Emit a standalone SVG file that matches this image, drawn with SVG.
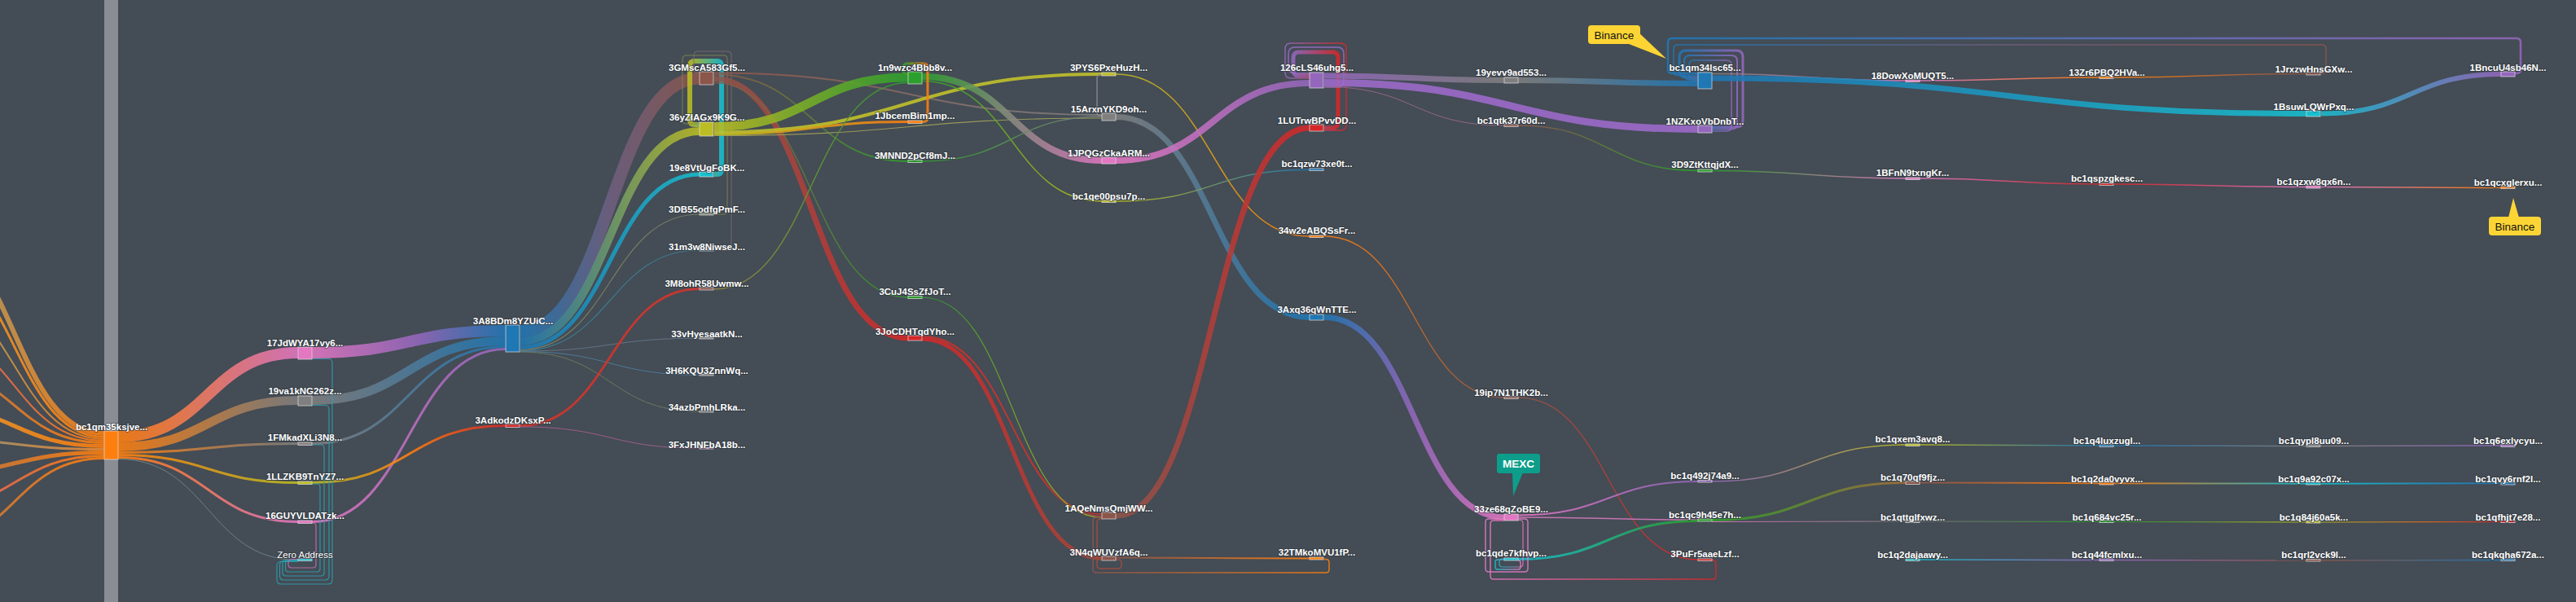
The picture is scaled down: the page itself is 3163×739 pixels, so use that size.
<svg xmlns="http://www.w3.org/2000/svg" width="3163" height="739" viewBox="0 0 3163 739">
<style>
.lbl{font-family:"Liberation Sans",Arial,sans-serif;font-size:11.5px;font-weight:bold;fill:#fff;text-anchor:middle;stroke:#2b3238;stroke-width:2px;stroke-opacity:.55;paint-order:stroke}
.lbr{font-weight:normal}
.lk{fill:none;stroke-opacity:.88}
.nd{stroke:#d8d8d8;stroke-opacity:.75;stroke-width:1}
.co{font-family:"Liberation Sans",Arial,sans-serif;font-size:13.5px;text-anchor:middle}
</style>
<defs>
<linearGradient id="gYO"><stop offset="0" stop-color="#a3a87c"/><stop offset="1" stop-color="#ff7f0e"/></linearGradient>
<linearGradient id="gOO"><stop offset="0" stop-color="#f0a030"/><stop offset="1" stop-color="#ff7f0e"/></linearGradient>
<linearGradient id="gRO"><stop offset="0" stop-color="#e06075"/><stop offset="1" stop-color="#ff7f0e"/></linearGradient>
<linearGradient id="gNO2"><stop offset="0" stop-color="#c07848"/><stop offset="1" stop-color="#ff7f0e"/></linearGradient>
<linearGradient id="gGO"><stop offset="0" stop-color="#8a9a88"/><stop offset="1" stop-color="#f08a30"/></linearGradient>
<linearGradient id="gOP"><stop offset="0" stop-color="#ff7f0e"/><stop offset="1" stop-color="#e377c2"/></linearGradient>
<linearGradient id="gOG"><stop offset="0" stop-color="#ff7f0e"/><stop offset="1" stop-color="#7f7f7f"/></linearGradient>
<linearGradient id="gOY"><stop offset="0" stop-color="#ff7f0e"/><stop offset="1" stop-color="#bcbd22"/></linearGradient>
<linearGradient id="gPVB"><stop offset="0" stop-color="#e377c2"/><stop offset=".55" stop-color="#9467bd"/><stop offset="1" stop-color="#1f77b4"/></linearGradient>
<linearGradient id="gGB"><stop offset="0" stop-color="#7f7f7f"/><stop offset="1" stop-color="#1f77b4"/></linearGradient>
<linearGradient id="gPV"><stop offset="0" stop-color="#e377c2"/><stop offset="1" stop-color="#9467bd"/></linearGradient>
<linearGradient id="gYR"><stop offset="0" stop-color="#bcbd22"/><stop offset=".5" stop-color="#ff7f0e"/><stop offset="1" stop-color="#d62728"/></linearGradient>
<linearGradient id="gBN"><stop offset="0" stop-color="#1f77b4"/><stop offset=".5" stop-color="#6f5f80"/><stop offset="1" stop-color="#8c564b"/></linearGradient>
<linearGradient id="gBY"><stop offset="0" stop-color="#1f77b4"/><stop offset="1" stop-color="#bcbd22"/></linearGradient>
<linearGradient id="gBC"><stop offset="0" stop-color="#1f77b4"/><stop offset="1" stop-color="#17becf"/></linearGradient>
<linearGradient id="gYC"><stop offset="0" stop-color="#bcbd22"/><stop offset="1" stop-color="#17becf"/></linearGradient>
<linearGradient id="gNG"><stop offset="0" stop-color="#8c564b"/><stop offset="1" stop-color="#7f7f7f"/></linearGradient>
<linearGradient id="gNE"><stop offset="0" stop-color="#8c564b"/><stop offset="1" stop-color="#2ca02c"/></linearGradient>
<linearGradient id="gNR"><stop offset="0" stop-color="#8c564b"/><stop offset="1" stop-color="#d62728"/></linearGradient>
<linearGradient id="gYE"><stop offset="0" stop-color="#bcbd22"/><stop offset="1" stop-color="#2ca02c"/></linearGradient>
<linearGradient id="gYO2"><stop offset="0" stop-color="#bcbd22"/><stop offset="1" stop-color="#ff7f0e"/></linearGradient>
<linearGradient id="gOlE"><stop offset="0" stop-color="#9a8a40"/><stop offset="1" stop-color="#2ca02c"/></linearGradient>
<linearGradient id="gEGP"><stop offset="0" stop-color="#2ca02c"/><stop offset=".5" stop-color="#8a8a80"/><stop offset="1" stop-color="#e377c2"/></linearGradient>
<linearGradient id="gEY"><stop offset="0" stop-color="#2ca02c"/><stop offset="1" stop-color="#bcbd22"/></linearGradient>
<linearGradient id="gEO"><stop offset="0" stop-color="#2ca02c"/><stop offset="1" stop-color="#ff7f0e"/></linearGradient>
<linearGradient id="gEG"><stop offset="0" stop-color="#2ca02c"/><stop offset="1" stop-color="#7f7f7f"/></linearGradient>
<linearGradient id="gRN"><stop offset="0" stop-color="#d62728"/><stop offset="1" stop-color="#a0483c"/></linearGradient>
<linearGradient id="gYB"><stop offset="0" stop-color="#bcbd22"/><stop offset="1" stop-color="#1f77b4"/></linearGradient>
<linearGradient id="gNO"><stop offset="0" stop-color="#8c564b"/><stop offset="1" stop-color="#ff7f0e"/></linearGradient>
<linearGradient id="gVR"><stop offset="0" stop-color="#9467bd"/><stop offset="1" stop-color="#d62728"/></linearGradient>
<linearGradient id="gVG"><stop offset="0" stop-color="#9467bd"/><stop offset="1" stop-color="#7f7f7f"/></linearGradient>
<linearGradient id="gON"><stop offset="0" stop-color="#ff7f0e"/><stop offset="1" stop-color="#8c564b"/></linearGradient>
<linearGradient id="gBVP"><stop offset="0" stop-color="#1f77b4"/><stop offset=".5" stop-color="#9467bd"/><stop offset="1" stop-color="#e377c2"/></linearGradient>
<linearGradient id="gPR"><stop offset="0" stop-color="#e377c2"/><stop offset="1" stop-color="#d62728"/></linearGradient>
<linearGradient id="gCE"><stop offset="0" stop-color="#17becf"/><stop offset="1" stop-color="#2ca02c"/></linearGradient>
<linearGradient id="gCP"><stop offset="0" stop-color="#17becf"/><stop offset="1" stop-color="#e377c2"/></linearGradient>
<linearGradient id="gGP"><stop offset="0" stop-color="#7f7f7f"/><stop offset="1" stop-color="#e377c2"/></linearGradient>
<linearGradient id="gEP"><stop offset="0" stop-color="#2ca02c"/><stop offset="1" stop-color="#e377c2"/></linearGradient>
<linearGradient id="gVY"><stop offset="0" stop-color="#9467bd"/><stop offset="1" stop-color="#bcbd22"/></linearGradient>
<linearGradient id="gEN"><stop offset="0" stop-color="#2ca02c"/><stop offset="1" stop-color="#a0703a"/></linearGradient>
<linearGradient id="gPG"><stop offset="0" stop-color="#e377c2"/><stop offset="1" stop-color="#7f7f7f"/></linearGradient>
<linearGradient id="gPO"><stop offset="0" stop-color="#e377c2"/><stop offset="1" stop-color="#ff7f0e"/></linearGradient>
<linearGradient id="gGE"><stop offset="0" stop-color="#7f7f7f"/><stop offset="1" stop-color="#2ca02c"/></linearGradient>
<linearGradient id="gCV"><stop offset="0" stop-color="#17becf"/><stop offset="1" stop-color="#9467bd"/></linearGradient>
<linearGradient id="gRP"><stop offset="0" stop-color="#d62728"/><stop offset="1" stop-color="#e377c2"/></linearGradient>
<linearGradient id="gBG"><stop offset="0" stop-color="#1f77b4"/><stop offset="1" stop-color="#7f7f7f"/></linearGradient>
<linearGradient id="gOC"><stop offset="0" stop-color="#ff7f0e"/><stop offset="1" stop-color="#17becf"/></linearGradient>
<linearGradient id="gVN"><stop offset="0" stop-color="#9467bd"/><stop offset="1" stop-color="#8c564b"/></linearGradient>
<linearGradient id="gGV"><stop offset="0" stop-color="#7f7f7f"/><stop offset="1" stop-color="#9467bd"/></linearGradient>
<linearGradient id="gCB"><stop offset="0" stop-color="#17becf"/><stop offset="1" stop-color="#1f77b4"/></linearGradient>
<linearGradient id="gNB"><stop offset="0" stop-color="#8c564b"/><stop offset="1" stop-color="#1f77b4"/></linearGradient>
<linearGradient id="gBV"><stop offset="0" stop-color="#1f77b4"/><stop offset="1" stop-color="#9467bd"/></linearGradient>
</defs>
<rect width="3163" height="739" fill="#444c55"/>
<rect x="128" y="0" width="17" height="739" fill="#8a8d93"/>
<g id="links" class="lk">
<path d="M-93 285.8C17.5 285.8 17.5 532 128 532" stroke="url(#gYO)" stroke-width="6"/>
<path d="M-93 313.8C17.5 313.8 17.5 536.5 128 536.5" stroke="url(#gOO)" stroke-width="3"/>
<path d="M-93 358.2C17.5 358.2 17.5 539 128 539" stroke="url(#gYO)" stroke-width="2"/>
<path d="M-93 405.8C17.5 405.8 17.5 541 128 541" stroke="url(#gRO)" stroke-width="2"/>
<path d="M-93 451.5C17.5 451.5 17.5 543.5 128 543.5" stroke="url(#gNO2)" stroke-width="3"/>
<path d="M-93 498.2C17.5 498.2 17.5 547.5 128 547.5" stroke="url(#gOO)" stroke-width="5"/>
<path d="M-93 538.6C17.5 538.6 17.5 551.5 128 551.5" stroke="url(#gGO)" stroke-width="3"/>
<path d="M-93 582.1C17.5 582.1 17.5 555.5 128 555.5" stroke="url(#gNO2)" stroke-width="5"/>
<path d="M-93 625.5C17.5 625.5 17.5 559.5 128 559.5" stroke="url(#gRO)" stroke-width="3"/>
<path d="M-93 669.6C17.5 669.6 17.5 562.5 128 562.5" stroke="url(#gNO2)" stroke-width="3"/>
<path d="M145 536C255.5 536 255.5 433 366 433" stroke="url(#gOP)" stroke-width="14"/>
<path d="M145 548.5C255.5 548.5 255.5 491.5 366 491.5" stroke="url(#gOG)" stroke-width="11"/>
<path d="M145 555.5C255.5 555.5 255.5 544.5 366 544.5" stroke="url(#gOG)" stroke-width="3"/>
<path d="M145 558.5C255.5 558.5 255.5 592.5 366 592.5" stroke="url(#gOY)" stroke-width="3"/>
<path d="M145 561.5C255.5 561.5 255.5 640.5 366 640.5" stroke="url(#gOP)" stroke-width="3"/>
<path d="M145 563.5C255.5 563.5 255.5 687.5 366 687.5" stroke="#6f8a8a" stroke-width="1"/>
<path d="M383 433C502 433 502 406 621 406" stroke="url(#gPVB)" stroke-width="14"/>
<path d="M383 491.5C502 491.5 502 418.5 621 418.5" stroke="url(#gGB)" stroke-width="11"/>
<path d="M383 544.5C502 544.5 502 425.5 621 425.5" stroke="url(#gGB)" stroke-width="3"/>
<path d="M383 640.5C502 640.5 502 428.5 621 428.5" stroke="url(#gPV)" stroke-width="3"/>
<path d="M383 592.5C502 592.5 502 522.5 621 522.5" stroke="url(#gYR)" stroke-width="3"/>
<path d="M383 440.5H403Q408 440.5 408 445.5V712Q408 717 403 717H345Q340 717 340 712V694.5Q340 689.5 345 689.5H366" stroke="#2a9fae" stroke-width="1.2"/>
<path d="M383 497.5H399Q404 497.5 404 502.5V707Q404 712 399 712H348.5Q343.5 712 343.5 707V693.7Q343.5 688.7 348.5 688.7H366" stroke="#2a9fae" stroke-width="1.2"/>
<path d="M383 546H394Q398 546 398 550V703Q398 707 394 707H351Q347 707 347 703V692Q347 688 351 688H366" stroke="#2a9fae" stroke-width="1.2"/>
<path d="M383 594H389Q393 594 393 598V698Q393 702 389 702H354.5Q350.5 702 350.5 698V691.3Q350.5 687.3 354.5 687.3H366" stroke="#2a9fae" stroke-width="1.2"/>
<path d="M383 642H384Q388 642 388 646V693Q388 697 384 697H358Q354 697 354 693V690.5Q354 686.5 358 686.5H366" stroke="#c070b0" stroke-width="1.2"/>
<path d="M639 406.5C749 406.5 749 96 859 96" stroke="url(#gBN)" stroke-width="15"/>
<path d="M639 419C749 419 749 161 859 161" stroke="url(#gBY)" stroke-width="10"/>
<path d="M639 426.5C749 426.5 749 214 859 214" stroke="url(#gBC)" stroke-width="5"/>
<path d="M639 429.5C749 429.5 749 263 859 263" stroke="#7d8466" stroke-width="1.2"/>
<path d="M639 430.5C749 430.5 749 307 859 307" stroke="#3b8296" stroke-width="1.2"/>
<path d="M639 431C749 431 749 415.2 859 415.2" stroke="#667a8c" stroke-width="1"/>
<path d="M639 431.5C749 431.5 749 460.2 859 460.2" stroke="#4f7fa0" stroke-width="1"/>
<path d="M639 432C749 432 749 505.2 859 505.2" stroke="#6d8060" stroke-width="1"/>
<path d="M639 522.5C749 522.5 749 354.5 859 354.5" stroke="#d2362d" stroke-width="3"/>
<path d="M639 524C749 524 749 550.2 859 550.2" stroke="#a8608f" stroke-width="1"/>
<path d="M877 214H880Q886 214 886 208V81Q886 75 880 75H853Q847 75 847 81V147Q847 153 853 153H859" stroke="url(#gYC)" stroke-width="6"/>
<path d="M877 263H889Q893 263 893 259V72Q893 68 889 68H842Q838 68 838 72V148Q838 152 842 152H859" stroke="#7f8a50" stroke-width="1"/>
<path d="M877 307H894Q898 307 898 303V67Q898 63 894 63H856Q852 63 852 67V85Q852 89 856 89H859" stroke="#7a6e70" stroke-width="1"/>
<path d="M877 89.5C1115 89.5 1115 141 1353 141" stroke="url(#gNG)" stroke-width="2"/>
<path d="M877 91.5C996 91.5 996 198 1115 198" stroke="url(#gNE)" stroke-width="1.8"/>
<path d="M877 96.5C996 96.5 996 415 1115 415" stroke="url(#gNR)" stroke-width="7"/>
<path d="M877 101.5C996 101.5 996 365 1115 365" stroke="url(#gNE)" stroke-width="1.5"/>
<path d="M877 155.5C996 155.5 996 95 1115 95" stroke="url(#gYE)" stroke-width="11"/>
<path d="M877 162.5C1115 162.5 1115 91 1353 91" stroke="#c4c42a" stroke-width="4"/>
<path d="M877 165C996 165 996 149.5 1115 149.5" stroke="url(#gYO2)" stroke-width="3"/>
<path d="M877 166.5C1115 166.5 1115 145 1353 145" stroke="#a3a35a" stroke-width="1.2"/>
<path d="M877 355C996 355 996 101.5 1115 101.5" stroke="url(#gOlE)" stroke-width="1.5"/>
<path d="M1132 94C1242.5 94 1242.5 197 1353 197" stroke="url(#gEGP)" stroke-width="8"/>
<path d="M1132 99.5C1242.5 99.5 1242.5 247 1353 247" stroke="url(#gEY)" stroke-width="1.5"/>
<path d="M1132 149.5H1134Q1139 149.5 1139 144.5V83Q1139 78 1134 78H1114Q1109 78 1109 83V86Q1109 91 1114 91H1115" stroke="url(#gEO)" stroke-width="3"/>
<path d="M1132 198C1242.5 198 1242.5 143 1353 143" stroke="url(#gEG)" stroke-width="1.5"/>
<path d="M1132 412.5C1242.5 412.5 1242.5 631 1353 631" stroke="#d0302c" stroke-width="1.5"/>
<path d="M1132 414C1242.5 414 1242.5 633 1353 633" stroke="#c83a30" stroke-width="1"/>
<path d="M1132 416C1242.5 416 1242.5 685.5 1353 685.5" stroke="url(#gRN)" stroke-width="5"/>
<path d="M1132 365C1242.5 365 1242.5 635 1353 635" stroke="url(#gEY)" stroke-width="1.2"/>
<path d="M1370 91C1489 91 1489 290 1608 290" stroke="url(#gYO2)" stroke-width="1.5"/>
<path d="M1370 143.5C1489 143.5 1489 389.5 1608 389.5" stroke="url(#gGB)" stroke-width="7"/>
<path d="M1370 197C1489 197 1489 102 1608 102" stroke="url(#gPV)" stroke-width="8"/>
<path d="M1370 247C1489 247 1489 208.2 1608 208.2" stroke="url(#gYB)" stroke-width="1.5"/>
<path d="M1370 633C1489 633 1489 157 1608 157" stroke="url(#gNR)" stroke-width="7"/>
<path d="M1370 684.5C1489 684.5 1489 685.5 1608 685.5" stroke="url(#gNO)" stroke-width="2"/>
<path d="M1370 687H1373Q1377 687 1377 691V694Q1377 698 1373 698H1351Q1347 698 1347 694V641Q1347 637 1351 637H1353" stroke="#a24c42" stroke-width="1.5"/>
<path d="M1626 686.5H1628Q1632 686.5 1632 690.5V699Q1632 703 1628 703H1346Q1342 703 1342 699V639Q1342 635 1346 635H1353" stroke="url(#gNO)" stroke-width="1.5"/>
<path d="M1353 92H1351Q1347 92 1347 96V138Q1347 142 1351 142H1353" stroke="#8a8a8a" stroke-width="1.5"/>
<path d="M1626 157H1636Q1643 157 1643 150V71Q1643 64 1636 64H1595Q1588 64 1588 71V86Q1588 93 1595 93H1608" stroke="url(#gVR)" stroke-width="5"/>
<path d="M1626 107H1642Q1650 107 1650 99V66Q1650 58 1642 58H1590Q1582 58 1582 66V82Q1582 90 1590 90H1608" stroke="#9b6cc8" stroke-width="1.5"/>
<path d="M1626 160H1646Q1653 160 1653 153V60Q1653 53 1646 53H1585Q1578 53 1578 60V89Q1578 96 1585 96H1608" stroke="url(#gVR)" stroke-width="1.5"/>
<path d="M1626 93C1736.5 93 1736.5 98.5 1847 98.5" stroke="url(#gVG)" stroke-width="7"/>
<path d="M1626 101.5C1855.5 101.5 1855.5 158.5 2085 158.5" stroke="#9d6bcc" stroke-width="9"/>
<path d="M1626 106.5C1736.5 106.5 1736.5 154 1847 154" stroke="#9a6a8a" stroke-width="1"/>
<path d="M1626 290C1736.5 290 1736.5 488 1847 488" stroke="url(#gON)" stroke-width="1.5"/>
<path d="M1626 389.5C1736.5 389.5 1736.5 635 1847 635" stroke="url(#gBVP)" stroke-width="7"/>
<path d="M1864 98.5C1974.5 98.5 1974.5 102.5 2085 102.5" stroke="url(#gGB)" stroke-width="7"/>
<path d="M1864 154C1974.5 154 1974.5 209.5 2085 209.5" stroke="url(#gNE)" stroke-width="1.5"/>
<path d="M1864 488C1974.5 488 1974.5 687 2085 687" stroke="url(#gNR)" stroke-width="1.5"/>
<path d="M1864 632.5C1974.5 632.5 1974.5 591 2085 591" stroke="url(#gPV)" stroke-width="2"/>
<path d="M1864 635C1974.5 635 1974.5 638.2 2085 638.2" stroke="#d77abf" stroke-width="1.5"/>
<path d="M1864 686.5C1974.5 686.5 1974.5 639.5 2085 639.5" stroke="url(#gCE)" stroke-width="3"/>
<path d="M1864 637H1872Q1876 637 1876 641V698Q1876 702 1872 702H1828Q1824 702 1824 698V641Q1824 637 1828 637H1847" stroke="#e07ac4" stroke-width="1.5"/>
<path d="M1864 638.5H1866Q1870 638.5 1870 642.5V692Q1870 696 1866 696H1845Q1841 696 1841 692V690Q1841 686 1845 686H1847" stroke="url(#gCP)" stroke-width="1.2"/>
<path d="M1864 688H1864.5Q1867 688 1867 691V696Q1867 699 1864 699H1839Q1836 699 1836 696V690Q1836 687 1839 687H1847" stroke="url(#gCP)" stroke-width="1.5"/>
<path d="M2102 687.5H2103Q2107 687.5 2107 691.5V707Q2107 711 2103 711H1834Q1830 711 1830 707V643Q1830 639 1834 639H1847" stroke="url(#gPR)" stroke-width="1.5"/>
<path d="M3088 90H3090Q3095 90 3095 85V52Q3095 47 3090 47H2053Q2048 47 2048 52V85Q2048 90 2053 90H2085" stroke="url(#gBV)" stroke-width="2.5"/>
<path d="M2850 90.5H2851Q2856 90.5 2856 85.5V60Q2856 55 2851 55H2060Q2055 55 2055 60V87.5Q2055 92.5 2060 92.5H2085" stroke="url(#gBN)" stroke-width="1.5"/>
<path d="M2102 156H2132Q2140 156 2140 148V70Q2140 62 2132 62H2070Q2062 62 2062 70V87Q2062 95 2070 95H2085" stroke="url(#gBV)" stroke-width="3"/>
<path d="M2102 158.5H2126Q2133 158.5 2133 151.5V75Q2133 68 2126 68H2075Q2068 68 2068 75V90.5Q2068 97.5 2075 97.5H2085" stroke="url(#gBV)" stroke-width="2"/>
<path d="M2102 161H2120Q2126 161 2126 155V80Q2126 74 2120 74H2080Q2074 74 2074 80V93Q2074 99 2080 99H2085" stroke="url(#gBV)" stroke-width="1.5"/>
<path d="M2102 90.5C2221 90.5 2221 99 2340 99" stroke="url(#gGP)" stroke-width="1.5"/>
<path d="M2102 96C2467 96 2467 139.5 2832 139.5" stroke="url(#gBC)" stroke-width="7"/>
<path d="M2102 209.5C2221 209.5 2221 219 2340 219" stroke="url(#gEP)" stroke-width="1.5"/>
<path d="M2102 591C2221 591 2221 546 2340 546" stroke="url(#gVY)" stroke-width="1.5"/>
<path d="M2102 638.5C2221 638.5 2221 592.5 2340 592.5" stroke="url(#gEN)" stroke-width="3"/>
<path d="M2102 640.5C2221 640.5 2221 640 2340 640" stroke="url(#gPG)" stroke-width="1.2"/>
<path d="M2357 99C2467 99 2467 95 2578 95" stroke="url(#gPO)" stroke-width="1.5"/>
<path d="M2357 219C2467 219 2467 226 2578 226" stroke="url(#gPR)" stroke-width="1.5"/>
<path d="M2357 546C2467 546 2467 547 2578 547" stroke="url(#gYB)" stroke-width="1.5"/>
<path d="M2357 592.5C2467 592.5 2467 593.2 2578 593.2" stroke="url(#gNO)" stroke-width="2"/>
<path d="M2357 640C2467 640 2467 640.5 2578 640.5" stroke="url(#gGE)" stroke-width="1.2"/>
<path d="M2357 687C2467 687 2467 687.5 2578 687.5" stroke="url(#gCV)" stroke-width="1.5"/>
<path d="M2596 95C2714 95 2714 90.5 2832 90.5" stroke="url(#gON)" stroke-width="1.5"/>
<path d="M2596 226C2714 226 2714 229.5 2832 229.5" stroke="url(#gRP)" stroke-width="1.5"/>
<path d="M2596 547C2714 547 2714 547.5 2832 547.5" stroke="url(#gBG)" stroke-width="1.5"/>
<path d="M2596 593.2C2714 593.2 2714 593.7 2832 593.7" stroke="url(#gOC)" stroke-width="2"/>
<path d="M2596 640.5C2714 640.5 2714 641 2832 641" stroke="url(#gEY)" stroke-width="1.2"/>
<path d="M2596 687.5C2714 687.5 2714 688 2832 688" stroke="url(#gVN)" stroke-width="1.5"/>
<path d="M2850 139.5C2960.5 139.5 2960.5 91 3071 91" stroke="url(#gCV)" stroke-width="6"/>
<path d="M2850 229.5C2960.5 229.5 2960.5 230.5 3071 230.5" stroke="url(#gPO)" stroke-width="1.5"/>
<path d="M2850 547.5C2960.5 547.5 2960.5 547 3071 547" stroke="url(#gGV)" stroke-width="1.5"/>
<path d="M2850 593.7C2960.5 593.7 2960.5 593.2 3071 593.2" stroke="url(#gCB)" stroke-width="2"/>
<path d="M2850 641C2960.5 641 2960.5 640.5 3071 640.5" stroke="url(#gYR)" stroke-width="1.2"/>
<path d="M2850 688C2960.5 688 2960.5 687.5 3071 687.5" stroke="url(#gNB)" stroke-width="1.5"/>
</g>
<g id="n-bc1qm35ksjve"><rect class="nd" x="128" y="529" width="17" height="35" fill="#ff7f0e"/><text class="lbl" x="137" y="528">bc1qm35ksjve...</text></g>
<g id="n-17JdWYA17vy6"><rect class="nd" x="366" y="426" width="17" height="15" fill="#e377c2"/><text class="lbl" x="374.5" y="425">17JdWYA17vy6...</text></g>
<g id="n-19va1kNG262z"><rect class="nd" x="366" y="486" width="17" height="12" fill="#7f7f7f"/><text class="lbl" x="374.5" y="484">19va1kNG262z...</text></g>
<g id="n-1FMkadXLi3N8"><rect class="nd" x="366" y="543" width="17" height="3.5" fill="#8a8080"/><text class="lbl" x="374.5" y="541">1FMkadXLi3N8...</text></g>
<g id="n-1LLZKB9TnYZ7"><rect class="nd" x="366" y="591" width="17" height="3.5" fill="#bcbd22"/><text class="lbl" x="374.5" y="589">1LLZKB9TnYZ7...</text></g>
<g id="n-16GUYVLDATzk"><rect class="nd" x="366" y="639" width="17" height="3.5" fill="#e377c2"/><text class="lbl" x="374.5" y="637">16GUYVLDATzk...</text></g>
<g id="n-zero"><rect class="nd" x="366" y="686" width="17" height="2.5" fill="#17becf"/><text class="lbl lbr" x="374.5" y="685">Zero Address</text></g>
<g id="n-3A8BDm8YZUiC"><rect class="nd" x="621" y="399" width="17" height="33" fill="#1f77b4"/><text class="lbl" x="630" y="398">3A8BDm8YZUiC...</text></g>
<g id="n-3AdkodzDKsxP"><rect class="nd" x="621" y="521" width="17" height="3.5" fill="#d62728"/><text class="lbl" x="630" y="520">3AdkodzDKsxP...</text></g>
<g id="n-3GMscA583Gf5"><rect class="nd" x="859" y="88" width="17" height="16" fill="#8c564b"/><text class="lbl" x="868" y="87">3GMscA583Gf5...</text></g>
<g id="n-36yZIAGx9K9G"><rect class="nd" x="859" y="150" width="17" height="17" fill="#bcbd22"/><text class="lbl" x="868" y="148">36yZIAGx9K9G...</text></g>
<g id="n-19e8VtUgFoBK"><rect class="nd" x="859" y="211" width="17" height="6" fill="#17becf"/><text class="lbl" x="868" y="210">19e8VtUgFoBK...</text></g>
<g id="n-3DB55odfgPmF"><rect class="nd" x="859" y="262" width="17" height="2" fill="#7d8466"/><text class="lbl" x="868" y="261">3DB55odfgPmF...</text></g>
<g id="n-31m3w8NiwseJ"><rect class="nd" x="859" y="306" width="17" height="2" fill="#3b8296"/><text class="lbl" x="868" y="307">31m3w8NiwseJ...</text></g>
<g id="n-3M8ohR58Uwmw"><rect class="nd" x="859" y="353" width="17" height="3" fill="#8c564b"/><text class="lbl" x="868" y="352">3M8ohR58Uwmw...</text></g>
<g id="n-33vHyesaatkN"><rect class="nd" x="859" y="414.5" width="17" height="1.5" fill="#7f7f7f"/><text class="lbl" x="868" y="414">33vHyesaatkN...</text></g>
<g id="n-3H6KQU3ZnnWq"><rect class="nd" x="859" y="459.5" width="17" height="1.5" fill="#7f7f7f"/><text class="lbl" x="868" y="459">3H6KQU3ZnnWq...</text></g>
<g id="n-34azbPmhLRka"><rect class="nd" x="859" y="504.5" width="17" height="1.5" fill="#7f7f7f"/><text class="lbl" x="868" y="504">34azbPmhLRka...</text></g>
<g id="n-3FxJHNFbA18b"><rect class="nd" x="859" y="549.5" width="17" height="1.5" fill="#e377c2"/><text class="lbl" x="868" y="550">3FxJHNFbA18b...</text></g>
<g id="n-1n9wzc4Bbb8v"><rect class="nd" x="1115" y="88" width="17" height="15" fill="#2ca02c"/><text class="lbl" x="1123.5" y="87">1n9wzc4Bbb8v...</text></g>
<g id="n-1JbcemBim1mp"><rect class="nd" x="1115" y="148" width="17" height="3.5" fill="#ff7f0e"/><text class="lbl" x="1123.5" y="146">1JbcemBim1mp...</text></g>
<g id="n-3MNND2pCf8mJ"><rect class="nd" x="1115" y="196.5" width="17" height="3" fill="#2ca02c"/><text class="lbl" x="1123.5" y="195">3MNND2pCf8mJ...</text></g>
<g id="n-3CuJ4SsZfJoT"><rect class="nd" x="1115" y="363.5" width="17" height="3" fill="#2ca02c"/><text class="lbl" x="1123.5" y="362">3CuJ4SsZfJoT...</text></g>
<g id="n-3JoCDHTqdYho"><rect class="nd" x="1115" y="412" width="17" height="6" fill="#d62728"/><text class="lbl" x="1123.5" y="411">3JoCDHTqdYho...</text></g>
<g id="n-3PYS6PxeHuzH"><rect class="nd" x="1353" y="89" width="17" height="4" fill="#bcbd22"/><text class="lbl" x="1361.5" y="87">3PYS6PxeHuzH...</text></g>
<g id="n-15ArxnYKD9oh"><rect class="nd" x="1353" y="139" width="17" height="9" fill="#7f7f7f"/><text class="lbl" x="1361.5" y="138">15ArxnYKD9oh...</text></g>
<g id="n-1JPQGzCkaARM"><rect class="nd" x="1353" y="193" width="17" height="8" fill="#e377c2"/><text class="lbl" x="1361.5" y="192">1JPQGzCkaARM...</text></g>
<g id="n-bc1qe00psu7p"><rect class="nd" x="1353" y="246" width="17" height="2.5" fill="#bcbd22"/><text class="lbl" x="1361.5" y="245">bc1qe00psu7p...</text></g>
<g id="n-1AQeNmsQmjWW"><rect class="nd" x="1353" y="629" width="17" height="8" fill="#8c564b"/><text class="lbl" x="1361.5" y="628">1AQeNmsQmjWW...</text></g>
<g id="n-3N4qWUVzfA6q"><rect class="nd" x="1353" y="683" width="17" height="5" fill="#8c564b"/><text class="lbl" x="1361.5" y="682">3N4qWUVzfA6q...</text></g>
<g id="n-126cLS46uhg5"><rect class="nd" x="1608" y="89" width="17" height="19" fill="#9467bd"/><text class="lbl" x="1617" y="87">126cLS46uhg5...</text></g>
<g id="n-1LUTrwBPvvDD"><rect class="nd" x="1608" y="153" width="17" height="8" fill="#d62728"/><text class="lbl" x="1617" y="152">1LUTrwBPvvDD...</text></g>
<g id="n-bc1qzw73xe0t"><rect class="nd" x="1608" y="207" width="17" height="2.5" fill="#1f77b4"/><text class="lbl" x="1617" y="205">bc1qzw73xe0t...</text></g>
<g id="n-34w2eABQSsFr"><rect class="nd" x="1608" y="289" width="17" height="2.5" fill="#ff7f0e"/><text class="lbl" x="1617" y="287">34w2eABQSsFr...</text></g>
<g id="n-3Axq36qWnTTE"><rect class="nd" x="1608" y="386" width="17" height="7" fill="#1f77b4"/><text class="lbl" x="1617" y="384">3Axq36qWnTTE...</text></g>
<g id="n-32TMkoMVU1fP"><rect class="nd" x="1608" y="684" width="17" height="3" fill="#ff7f0e"/><text class="lbl" x="1617" y="682">32TMkoMVU1fP...</text></g>
<g id="n-19yevv9ad553"><rect class="nd" x="1847" y="95" width="17" height="7" fill="#7f7f7f"/><text class="lbl" x="1855.5" y="93">19yevv9ad553...</text></g>
<g id="n-bc1qtk37r60d"><rect class="nd" x="1847" y="153" width="17" height="2.5" fill="#8c564b"/><text class="lbl" x="1855.5" y="152">bc1qtk37r60d...</text></g>
<g id="n-19ip7N1THK2b"><rect class="nd" x="1847" y="487" width="17" height="2.5" fill="#8c564b"/><text class="lbl" x="1855.5" y="486">19ip7N1THK2b...</text></g>
<g id="n-33ze68qZoBE9"><rect class="nd" x="1847" y="631" width="17" height="8" fill="#e377c2"/><text class="lbl" x="1855.5" y="629">33ze68qZoBE9...</text></g>
<g id="n-bc1qde7kfhvp"><rect class="nd" x="1847" y="685" width="17" height="3" fill="#17becf"/><text class="lbl" x="1855.5" y="683">bc1qde7kfhvp...</text></g>
<g id="n-bc1qm34lsc65"><rect class="nd" x="2085" y="89" width="17" height="20" fill="#1f77b4"/><text class="lbl" x="2093.5" y="87">bc1qm34lsc65...</text></g>
<g id="n-1NZKxoVbDnbT"><rect class="nd" x="2085" y="154" width="17" height="9" fill="#9467bd"/><text class="lbl" x="2093.5" y="153">1NZKxoVbDnbT...</text></g>
<g id="n-3D9ZtKttqjdX"><rect class="nd" x="2085" y="208" width="17" height="3" fill="#2ca02c"/><text class="lbl" x="2093.5" y="206">3D9ZtKttqjdX...</text></g>
<g id="n-bc1q492j74a9"><rect class="nd" x="2085" y="589.5" width="17" height="2.5" fill="#9467bd"/><text class="lbl" x="2093.5" y="588">bc1q492j74a9...</text></g>
<g id="n-bc1qc9h45e7h"><rect class="nd" x="2085" y="637" width="17" height="3" fill="#2ca02c"/><text class="lbl" x="2093.5" y="636">bc1qc9h45e7h...</text></g>
<g id="n-3PuFr5aaeLzf"><rect class="nd" x="2085" y="686" width="17" height="2.5" fill="#d62728"/><text class="lbl" x="2093.5" y="684">3PuFr5aaeLzf...</text></g>
<g id="n-18DowXoMUQT5"><rect class="nd" x="2340" y="98" width="17" height="2.5" fill="#e377c2"/><text class="lbl" x="2348.5" y="97">18DowXoMUQT5...</text></g>
<g id="n-1BFnN9txngKr"><rect class="nd" x="2340" y="218" width="17" height="2.5" fill="#e377c2"/><text class="lbl" x="2348.5" y="216">1BFnN9txngKr...</text></g>
<g id="n-bc1qxem3avq8"><rect class="nd" x="2340" y="545" width="17" height="2.5" fill="#bcbd22"/><text class="lbl" x="2348.5" y="543">bc1qxem3avq8...</text></g>
<g id="n-bc1q70qf9fjz"><rect class="nd" x="2340" y="591" width="17" height="3.5" fill="#8c564b"/><text class="lbl" x="2348.5" y="590">bc1q70qf9fjz...</text></g>
<g id="n-bc1qttglfxwz"><rect class="nd" x="2340" y="639" width="17" height="2.5" fill="#7f7f7f"/><text class="lbl" x="2348.5" y="639">bc1qttglfxwz...</text></g>
<g id="n-bc1q2dajaawy"><rect class="nd" x="2340" y="686" width="17" height="2.5" fill="#17becf"/><text class="lbl" x="2348.5" y="685">bc1q2dajaawy...</text></g>
<g id="n-13Zr6PBQ2HVa"><rect class="nd" x="2578" y="94" width="17" height="2.5" fill="#ff7f0e"/><text class="lbl" x="2587" y="93">13Zr6PBQ2HVa...</text></g>
<g id="n-bc1qspzgkesc"><rect class="nd" x="2578" y="225" width="17" height="2.5" fill="#d62728"/><text class="lbl" x="2587" y="223">bc1qspzgkesc...</text></g>
<g id="n-bc1q4luxzugl"><rect class="nd" x="2578" y="546" width="17" height="2.5" fill="#1f77b4"/><text class="lbl" x="2587" y="545">bc1q4luxzugl...</text></g>
<g id="n-bc1q2da0vyvx"><rect class="nd" x="2578" y="592" width="17" height="3" fill="#ff7f0e"/><text class="lbl" x="2587" y="592">bc1q2da0vyvx...</text></g>
<g id="n-bc1q684vc25r"><rect class="nd" x="2578" y="639" width="17" height="2.5" fill="#2ca02c"/><text class="lbl" x="2587" y="639">bc1q684vc25r...</text></g>
<g id="n-bc1q44fcmlxu"><rect class="nd" x="2578" y="686" width="17" height="2.5" fill="#9467bd"/><text class="lbl" x="2587" y="685">bc1q44fcmlxu...</text></g>
<g id="n-1JrxzwHnsGXw"><rect class="nd" x="2832" y="89" width="17" height="3" fill="#8c564b"/><text class="lbl" x="2841" y="89">1JrxzwHnsGXw...</text></g>
<g id="n-1BsuwLQWrPxq"><rect class="nd" x="2832" y="136" width="17" height="7" fill="#17becf"/><text class="lbl" x="2841" y="135">1BsuwLQWrPxq...</text></g>
<g id="n-bc1qzxw8qx6n"><rect class="nd" x="2832" y="228" width="17" height="3" fill="#e377c2"/><text class="lbl" x="2841" y="227">bc1qzxw8qx6n...</text></g>
<g id="n-bc1qypl8uu09"><rect class="nd" x="2832" y="546" width="17" height="2.5" fill="#7f7f7f"/><text class="lbl" x="2841" y="545">bc1qypl8uu09...</text></g>
<g id="n-bc1q9a92c07x"><rect class="nd" x="2832" y="592" width="17" height="3" fill="#17becf"/><text class="lbl" x="2841" y="592">bc1q9a92c07x...</text></g>
<g id="n-bc1q84j60a5k"><rect class="nd" x="2832" y="639.5" width="17" height="2.5" fill="#bcbd22"/><text class="lbl" x="2841" y="639">bc1q84j60a5k...</text></g>
<g id="n-bc1qrl2vck9l"><rect class="nd" x="2832" y="686.5" width="17" height="2.5" fill="#8c564b"/><text class="lbl" x="2841" y="685">bc1qrl2vck9l...</text></g>
<g id="n-1BncuU4sb46N"><rect class="nd" x="3071" y="88" width="17" height="6" fill="#9467bd"/><text class="lbl" x="3079.5" y="87">1BncuU4sb46N...</text></g>
<g id="n-bc1qcxglerxu"><rect class="nd" x="3071" y="229" width="17" height="2.5" fill="#ff7f0e"/><text class="lbl" x="3079.5" y="228">bc1qcxglerxu...</text></g>
<g id="n-bc1q6exlycyu"><rect class="nd" x="3071" y="546" width="17" height="2.5" fill="#9467bd"/><text class="lbl" x="3079.5" y="545">bc1q6exlycyu...</text></g>
<g id="n-bc1qvy6rnf2l"><rect class="nd" x="3071" y="592" width="17" height="3" fill="#1f77b4"/><text class="lbl" x="3079.5" y="592">bc1qvy6rnf2l...</text></g>
<g id="n-bc1qfhjt7e28"><rect class="nd" x="3071" y="639" width="17" height="2.5" fill="#d62728"/><text class="lbl" x="3079.5" y="639">bc1qfhjt7e28...</text></g>
<g id="n-bc1qkqha672a"><rect class="nd" x="3071" y="686" width="17" height="2.5" fill="#1f77b4"/><text class="lbl" x="3079.5" y="685">bc1qkqha672a...</text></g>
<g id="callout-binance-1"><polygon points="2008,36 2046,72 2000,54" fill="#fcd535"/><rect x="1950" y="31" width="64" height="23" rx="4" fill="#fcd535"/><text class="co" x="1982" y="47.5" fill="#111">Binance</text></g>
<g id="callout-binance-2"><polygon points="3080,267 3086,243 3093,267" fill="#fcd535"/><rect x="3056" y="266" width="64" height="23" rx="4" fill="#fcd535"/><text class="co" x="3088" y="282.5" fill="#111">Binance</text></g>
<g id="callout-mexc"><polygon points="1857,580 1858,609 1870,580" fill="#0d9e8b"/><rect x="1838" y="557" width="53" height="24" rx="3" fill="#0d9e8b"/><text class="co" x="1864.5" y="573.5" fill="#fff" font-weight="bold" font-size="13">MEXC</text></g>
</svg>
